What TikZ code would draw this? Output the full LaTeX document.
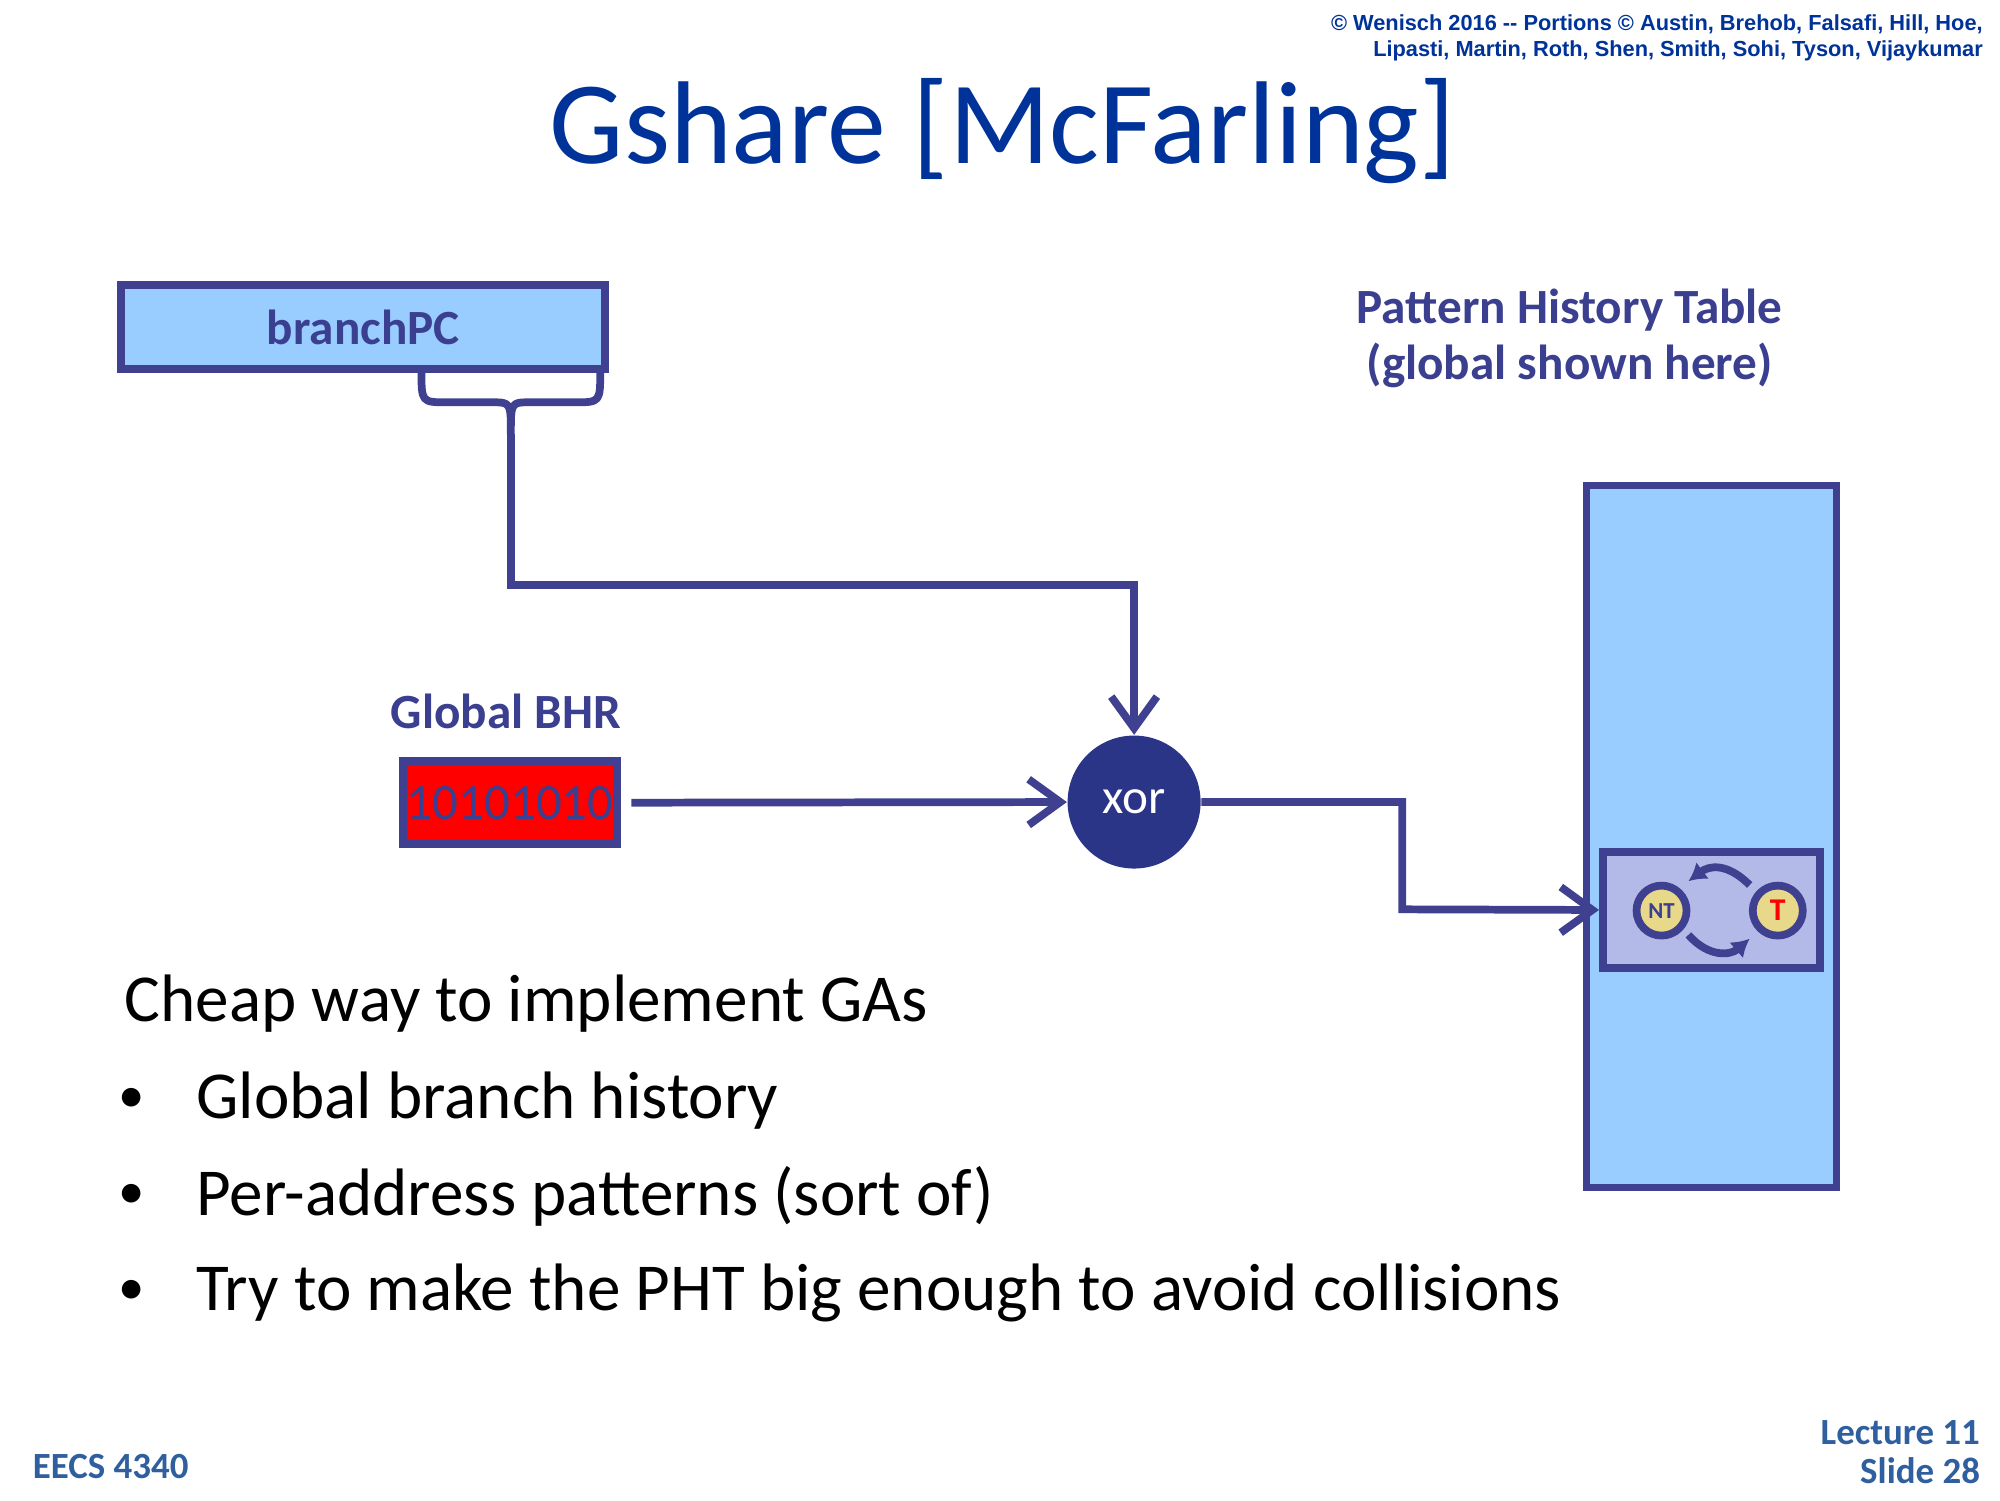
\documentclass[tikz,border=0pt]{standalone}
\usepackage{fontspec}
\setmainfont{Carlito}
\newfontfamily\arialf{Liberation Sans}
\usetikzlibrary{arrows.meta}
\definecolor{ln}{HTML}{3F4190}
\definecolor{ttl}{HTML}{003399}
\definecolor{lb}{HTML}{99CCFF}
\definecolor{ib}{HTML}{B3BAE8}
\definecolor{cy}{HTML}{E8D88A}
\definecolor{lab}{HTML}{3A3F8F}
\definecolor{xorc}{HTML}{2B3588}
\definecolor{foot}{HTML}{2F5F9F}
\begin{document}
\begin{tikzpicture}[x=0.012771cm,y=-0.012771cm,
  wire/.style={draw=ln,line width=2.2pt},
  arr/.style={wire,-{Straight Barb[length=9pt,width=13pt,line width=2.2pt]}},
  lbl/.style={text=lab,font=\bfseries\fontsize{14}{16}\selectfont},
  body/.style={font=\fontsize{19.1}{24}\selectfont}]
\useasboundingbox (0,0) rectangle (1566,1175);
\fill[white] (0,0) rectangle (1566,1175);
\node[anchor=north east,align=right,text=ttl,font=\arialf\bfseries\fontsize{6.2}{7.4}\selectfont,inner sep=0] (cp) at (1553,11) {© Wenisch 2016 -- Portions © Austin, Brehob, Falsafi, Hill, Hoe,\\Lipasti, Martin, Roth, Shen, Smith, Sohi, Tyson, Vijaykumar};
\node[text=ttl,font=\fontsize{33.5}{36}\selectfont] (title) at (785,103) {Gshare [McFarling]};
\node[draw=ln,line width=2.2pt,fill=lb,minimum width=4.84cm,minimum height=0.84cm,inner sep=0,lbl] (pc) at (284.5,256) {branchPC};
\draw[wire,line join=round] (330,290) .. controls (330,315) .. (350,315) -- (385,315) .. controls (400,315) .. (400,340) .. controls (400,315) .. (415,315) -- (450,315) .. controls (470,315) .. (470,290);
\coordinate (bt) at (400,340);
\node[circle,fill=xorc,inner sep=0,minimum size=1.33cm,text=white,font=\fontsize{14}{16}\selectfont] (xor) at (888,628) {xor};
\coordinate (c1) at (888,458);
\draw[arr] (bt) |- (c1) -- (xor.north);
\node[lbl] (gbt) at (396,557) {Global BHR};
\node[draw=ln,line width=2.2pt,fill=red,minimum width=2.14cm,minimum height=0.83cm,inner sep=0,text=lab,font=\fontsize{14.5}{17}\selectfont] (bhr) at (399.5,628.5) {10101010};
\draw[arr] (bhr.east) ++(8,0) -- (xor.west);
\node[lbl,align=center] (phtt) at (1229,265) {Pattern History Table\\(global shown here)};
\node[draw=ln,line width=2.2pt,fill=lb,minimum width=2.5cm,minimum height=7.02cm,inner sep=0] (pht) at (1340,655) {};
\node[draw=ln,line width=2.2pt,fill=ib,minimum width=2.17cm,minimum height=1.16cm,inner sep=0] (ent) at (1340,712.5) {};
\coordinate (c2) at (1098,628);
\coordinate (c3) at (1098,712);
\draw[arr] (xor.east) -- (c2) -- (c3) -- (ent.west);
\node[circle,draw=ln,line width=2.2pt,fill=cy,minimum size=0.5cm,inner sep=0,text=lab,font=\bfseries\fontsize{6.5}{7}\selectfont] (nt) at (1301,713) {NT};
\node[circle,draw=ln,line width=2.2pt,fill=cy,minimum size=0.5cm,inner sep=0,text=red,font=\bfseries\fontsize{9}{10}\selectfont] (t) at (1392,713) {T};
\draw[wire,-{Latex[length=5pt,width=6pt]}] (1370,693) .. controls (1352,675) and (1338,678) .. (1322,690);
\draw[wire,-{Latex[length=5pt,width=6pt]}] (1322,732) .. controls (1338,750) and (1355,748) .. (1370,735);
\node[anchor=west,body] (l0) at (88,786) {Cheap way to implement GAs};
\foreach \yy/\tx [count=\i] in {862/Global branch history,937/Per-address patterns (sort of),1012/Try to make the PHT big enough to avoid collisions}{
  \node[font=\fontsize{15}{18}\selectfont] (b\i) at (103,\yy) {•};
  \node[anchor=west,body] (t\i) at (144,\yy) {\tx};
}
\node[anchor=west,text=foot,font=\bfseries\fontsize{10.5}{12}\selectfont] (ee) at (16,1148) {EECS 4340};
\node[anchor=east,align=right,text=foot,font=\bfseries\fontsize{10.5}{11}\selectfont] (lec) at (1560,1137) {Lecture 11\\Slide 28};
\end{tikzpicture}
\end{document}
